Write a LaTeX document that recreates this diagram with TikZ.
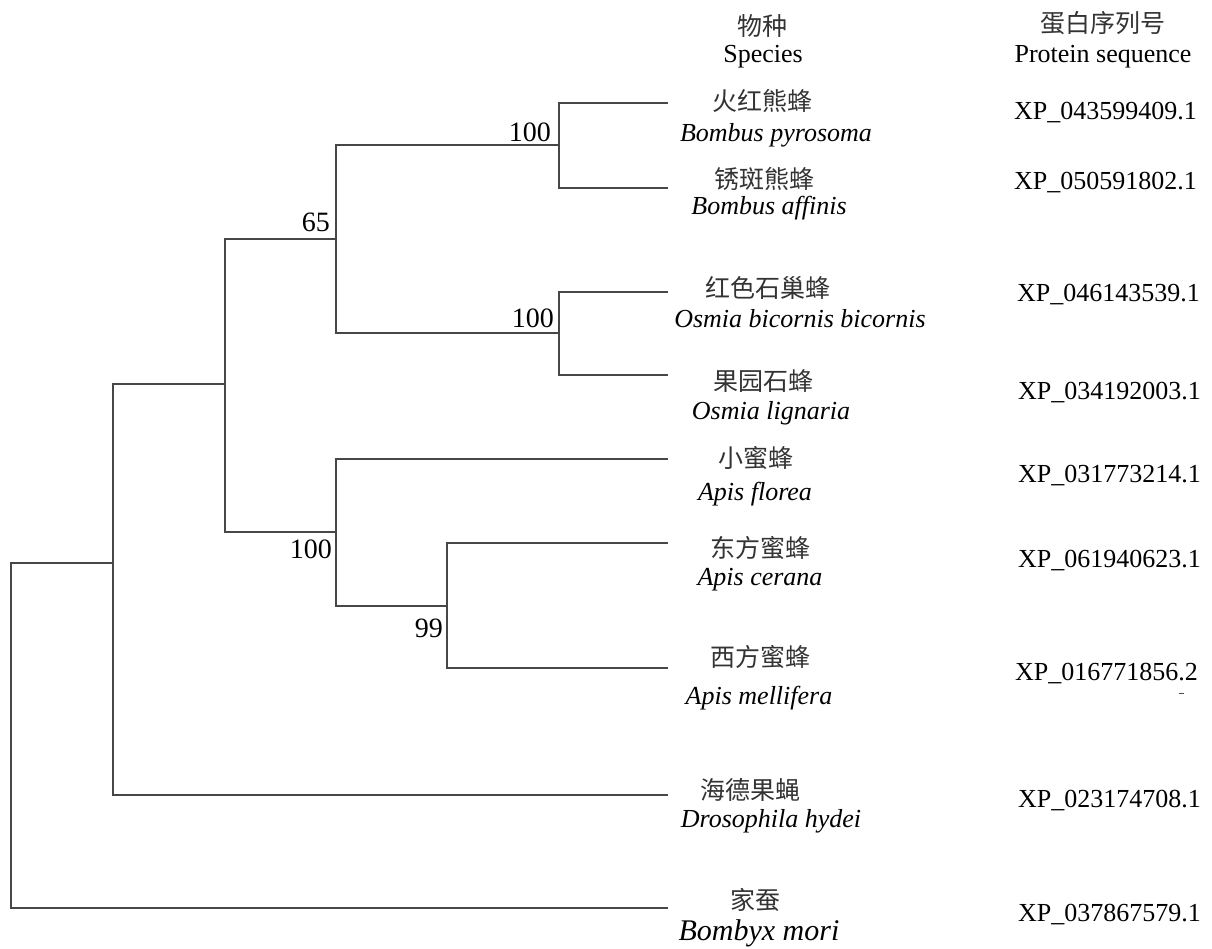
\documentclass[tikz,border=0pt]{standalone}
\usepackage{fontspec}
\setmainfont{Liberation Serif}
\newfontfamily\cjk{Noto Sans CJK SC}
\tikzset{
  branch/.style={draw=black!72, line width=1.3pt},
  cn/.style={font=\cjk\fontsize{25}{30}\selectfont, inner sep=0pt, anchor=center, text=black!80},
  la/.style={font=\fontsize{26}{30}\selectfont\itshape, inner sep=0pt, anchor=base},
  acc/.style={font=\fontsize{26}{30}\selectfont, inner sep=0pt, anchor=base west},
  boot/.style={font=\fontsize{28}{32}\selectfont, inner sep=0pt, anchor=base east},
  hdr/.style={font=\fontsize{26}{30}\selectfont, inner sep=0pt, anchor=base},
  speck/.style={draw=black!70, line width=1pt},
}
\begin{document}
\begin{tikzpicture}[x=1pt,y=-1pt]
\useasboundingbox (0,0) rectangle (1212,949);
\fill[white] (0,0) rectangle (1212,949);
% internal nodes
\coordinate (R) at (11,735);
\coordinate (A) at (113,563);
\coordinate (B) at (225,384);
\coordinate (C) at (336,239);
\coordinate (D) at (336,532);
\coordinate (E) at (559,145);
\coordinate (F) at (559,333);
\coordinate (G) at (447,606);
% leaf ends
\coordinate (l1) at (668,103);
\coordinate (l2) at (668,188);
\coordinate (l3) at (668,292);
\coordinate (l4) at (668,375);
\coordinate (l5) at (668,459);
\coordinate (l6) at (668,543);
\coordinate (l7) at (668,668);
\coordinate (l8) at (668,795);
\coordinate (l9) at (668,908);
% branches
\draw[branch] (R) |- (A);
\draw[branch] (R) |- (l9);
\draw[branch] (A) |- (B);
\draw[branch] (A) |- (l8);
\draw[branch] (B) |- (C);
\draw[branch] (B) |- (D);
\draw[branch] (C) |- (E);
\draw[branch] (C) |- (F);
\draw[branch] (E) |- (l1);
\draw[branch] (E) |- (l2);
\draw[branch] (F) |- (l3);
\draw[branch] (F) |- (l4);
\draw[branch] (D) |- (l5);
\draw[branch] (D) |- (G);
\draw[branch] (G) |- (l6);
\draw[branch] (G) |- (l7);
% bootstrap values
\node[boot] (bE) at (551,142) {100};
\node[boot] (bC) at (330,232) {65};
\node[boot] (bF) at (554,328) {100};
\node[boot] (bD) at (332,558) {100};
\node[boot] (bG) at (443,637) {99};
% headers
\node[cn] (h1) at (762,26) {物种};
\node[hdr] (h2) at (763,63) {Species};
\node[cn] (h3) at (1103,23) {蛋白序列号};
\node[hdr] (h4) at (1103,63) {Protein sequence};
% species
\node[cn] (c1) at (762,101) {火红熊蜂};
\node[la] (s1) at (776,142) {Bombus pyrosoma};
\node[acc] (p1) at (1014,120) {XP\_043599409.1};
\node[cn] (c2) at (764,179) {锈斑熊蜂};
\node[la] (s2) at (769,215) {Bombus affinis};
\node[acc] (p2) at (1014,190) {XP\_050591802.1};
\node[cn] (c3) at (768,288) {红色石巢蜂};
\node[la] (s3) at (800,327) {Osmia bicornis bicornis};
\node[acc] (p3) at (1017,302) {XP\_046143539.1};
\node[cn] (c4) at (763,381) {果园石蜂};
\node[la] (s4) at (771,419) {Osmia lignaria};
\node[acc] (p4) at (1018,399) {XP\_034192003.1};
\node[cn] (c5) at (756,458) {小蜜蜂};
\node[la] (s5) at (755,500) {Apis florea};
\node[acc] (p5) at (1018,482) {XP\_031773214.1};
\node[cn] (c6) at (760,548) {东方蜜蜂};
\node[la] (s6) at (760,585) {Apis cerana};
\node[acc] (p6) at (1018,567) {XP\_061940623.1};
\node[cn] (c7) at (760,657) {西方蜜蜂};
\node[la] (s7) at (759,704) {Apis mellifera};
\node[acc] (p7) at (1015,680) {XP\_016771856.2};
\coordinate (m1) at (1179,693);
\coordinate (m2) at (1184,693);
\draw[speck] (m1) -- (m2);
\node[cn] (c8) at (750,790) {海德果蝇};
\node[la] (s8) at (771,827) {Drosophila hydei};
\node[acc] (p8) at (1018,807) {XP\_023174708.1};
\node[cn] (c9) at (755,900) {家蚕};
\node[la, font=\fontsize{30}{34}\selectfont\itshape] (s9) at (759,940) {Bombyx mori};
\node[acc] (p9) at (1018,921) {XP\_037867579.1};
\end{tikzpicture}
\end{document}
